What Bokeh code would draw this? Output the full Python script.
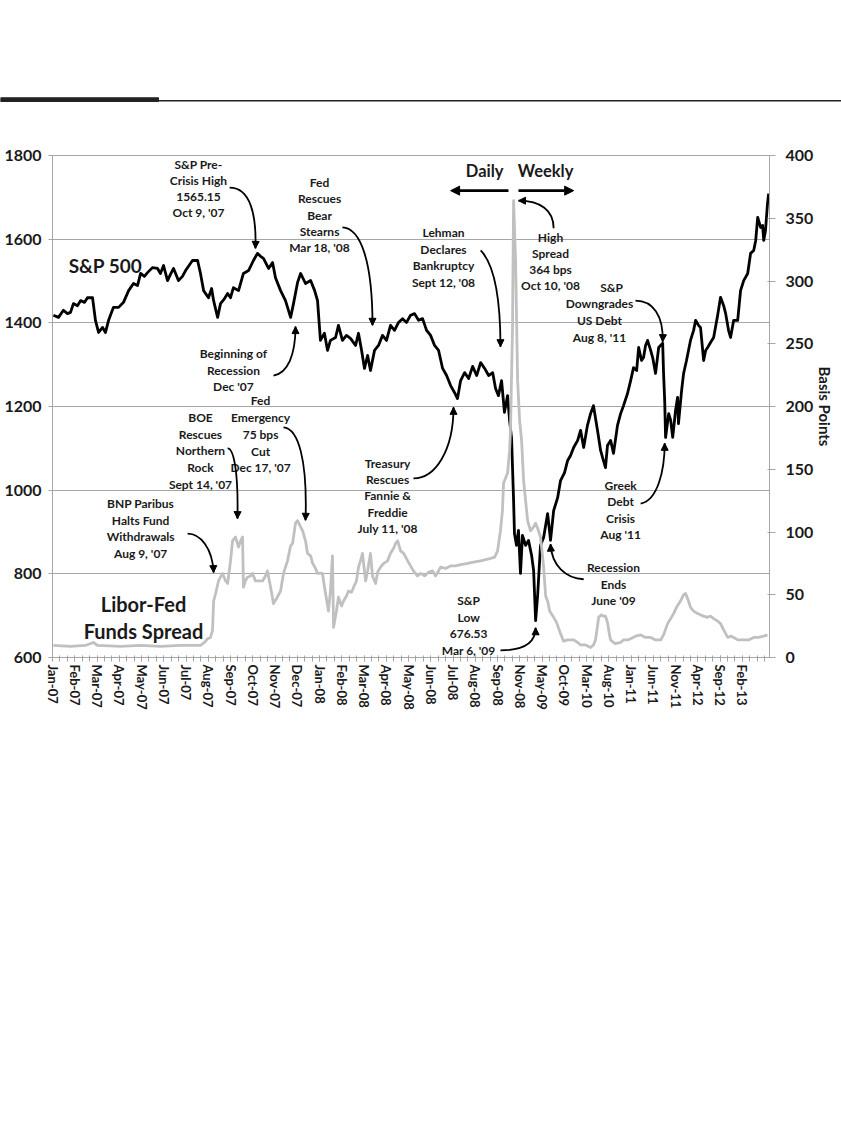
import math
from bokeh.plotting import figure
from bokeh.models import Range1d, LinearAxis, FixedTicker, ColumnDataSource, Arrow, NormalHead
from bokeh.layouts import column
from bokeh.embed import file_html
from bokeh.resources import INLINE
from bokeh.core.properties import value

# ---------------- data ----------------
# x axis: category position, one unit per labelled tick (daily data to Sep-08, weekly after)
x_labels = ["Jan-07", "Feb-07", "Mar-07", "Apr-07", "May-07", "Jun-07", "Jul-07", "Aug-07",
            "Sep-07", "Oct-07", "Nov-07", "Dec-07", "Jan-08", "Feb-08", "Mar-08", "Apr-08",
            "May-08", "Jun-08", "Jul-08", "Aug-08", "Sep-08", "Nov-08", "May-09", "Oct-09",
            "Mar-10", "Aug-10", "Jan-11", "Jun-11", "Nov-11", "Apr-12", "Sep-12", "Feb-13"]

left_ticks = [600, 800, 1000, 1200, 1400, 1600, 1800]
right_ticks = [0, 50, 100, 150, 200, 250, 300, 350, 400]

# S&P 500 index (left axis): (position, level)
sp500 = [
    (0.04, 1418), (0.27, 1413), (0.49, 1430), (0.67, 1422), (0.81, 1425), (0.94, 1446),
    (1.12, 1441), (1.26, 1453), (1.44, 1449), (1.57, 1460), (1.80, 1460), (1.93, 1406),
    (2.07, 1377), (2.25, 1389), (2.38, 1377), (2.52, 1406), (2.74, 1437), (2.97, 1437),
    (3.19, 1449), (3.42, 1477), (3.64, 1494), (3.82, 1489), (3.96, 1518), (4.13, 1511),
    (4.27, 1520), (4.49, 1532), (4.72, 1530), (4.85, 1518), (4.99, 1537), (5.17, 1501),
    (5.30, 1516), (5.44, 1530), (5.66, 1501), (5.84, 1511), (5.98, 1525), (6.29, 1549),
    (6.52, 1549), (6.65, 1518), (6.79, 1477), (7.01, 1460), (7.15, 1482), (7.24, 1453),
    (7.42, 1413), (7.55, 1446), (7.73, 1458), (7.87, 1470), (8.00, 1460), (8.13, 1484),
    (8.36, 1477), (8.58, 1518), (8.81, 1525), (9.03, 1549), (9.21, 1566), (9.35, 1559),
    (9.48, 1554), (9.71, 1530), (9.89, 1544), (10.02, 1508), (10.25, 1477), (10.47, 1453),
    (10.70, 1413), (10.83, 1446), (11.01, 1496), (11.15, 1518), (11.37, 1494), (11.60, 1501),
    (11.78, 1477), (11.91, 1453), (12.04, 1358), (12.22, 1375), (12.36, 1334), (12.49, 1358),
    (12.72, 1365), (12.85, 1394), (13.03, 1358), (13.21, 1370), (13.39, 1363), (13.62, 1346),
    (13.75, 1375), (13.89, 1334), (14.02, 1291), (14.16, 1322), (14.29, 1286), (14.47, 1334),
    (14.65, 1346), (14.83, 1370), (15.01, 1358), (15.19, 1394), (15.37, 1382), (15.55, 1401),
    (15.73, 1410), (15.91, 1401), (16.09, 1418), (16.27, 1422), (16.45, 1406), (16.63, 1410),
    (16.81, 1382), (16.99, 1370), (17.17, 1346), (17.35, 1334), (17.53, 1291), (17.71, 1274),
    (17.89, 1250), (18.07, 1233), (18.20, 1219), (18.34, 1262), (18.52, 1281), (18.70, 1267),
    (18.88, 1296), (19.06, 1274), (19.24, 1305), (19.42, 1291), (19.60, 1274), (19.78, 1281),
    (19.91, 1243), (20.04, 1226), (20.18, 1262), (20.31, 1186), (20.45, 1226), (20.54, 1167),
    (20.63, 1124), (20.72, 975), (20.76, 896), (20.85, 868), (20.94, 904), (21.03, 801),
    (21.12, 892), (21.26, 868), (21.39, 880), (21.53, 844), (21.62, 808), (21.71, 688),
    (21.80, 748), (21.93, 868), (22.07, 887), (22.25, 944), (22.38, 880), (22.52, 951),
    (22.70, 982), (22.83, 1023), (23.01, 1042), (23.15, 1071), (23.28, 1083), (23.42, 1102),
    (23.60, 1119), (23.73, 1143), (23.87, 1102), (24.04, 1155), (24.18, 1183), (24.31, 1202),
    (24.49, 1143), (24.63, 1095), (24.72, 1078), (24.85, 1054), (24.94, 1107), (25.08, 1119),
    (25.21, 1088), (25.39, 1155), (25.53, 1183), (25.66, 1202), (25.84, 1231), (25.98, 1262),
    (26.11, 1293), (26.25, 1286), (26.34, 1341), (26.47, 1310), (26.56, 1317), (26.65, 1346),
    (26.74, 1358), (26.88, 1334), (26.97, 1317), (27.10, 1279), (27.24, 1341), (27.42, 1351),
    (27.46, 1279), (27.51, 1214), (27.55, 1126), (27.69, 1183), (27.78, 1167), (27.87, 1126),
    (28.00, 1191), (28.09, 1222), (28.13, 1159), (28.27, 1238), (28.36, 1279), (28.49, 1310),
    (28.67, 1358), (28.81, 1382), (28.90, 1406), (29.03, 1394), (29.12, 1389), (29.26, 1310),
    (29.35, 1334), (29.44, 1341), (29.57, 1353), (29.71, 1365), (29.89, 1418), (30.02, 1461),
    (30.16, 1441), (30.25, 1422), (30.38, 1382), (30.47, 1365), (30.61, 1406), (30.79, 1406),
    (30.92, 1477), (31.06, 1501), (31.24, 1518), (31.37, 1566), (31.51, 1573), (31.60, 1597),
    (31.69, 1652), (31.82, 1628), (31.91, 1633), (31.96, 1597), (32.04, 1621), (32.13, 1685),
    (32.18, 1709),
]

# Libor-Fed Funds spread in basis points (right axis): (position, bps)
libor_spread = [
    (0.04, 9.6), (0.81, 8.8), (1.48, 9.6), (1.84, 12), (2.02, 9.6), (3.06, 8.8), (3.96, 9.6),
    (4.85, 8.8), (5.75, 9.6), (6.65, 9.6), (6.83, 12), (6.97, 15), (7.10, 16), (7.19, 21.5),
    (7.24, 45), (7.33, 51), (7.46, 61), (7.64, 67), (7.78, 61), (7.87, 59), (8.00, 77),
    (8.09, 93), (8.22, 96), (8.36, 88), (8.45, 93), (8.54, 96), (8.58, 56), (8.67, 61),
    (8.76, 64), (8.90, 65), (8.99, 67), (9.12, 61), (9.21, 61), (9.44, 61), (9.57, 65),
    (9.66, 69), (9.80, 56), (9.93, 43), (10.07, 47), (10.25, 53), (10.38, 67), (10.56, 77),
    (10.70, 89), (10.79, 91), (10.92, 107), (11.01, 109), (11.15, 104), (11.24, 101),
    (11.37, 93), (11.46, 83), (11.60, 81), (11.69, 75), (11.82, 71), (11.91, 67), (12.13, 67),
    (12.27, 51), (12.40, 37), (12.49, 53), (12.58, 81), (12.63, 24), (12.76, 37), (12.85, 48),
    (12.99, 41), (13.08, 45), (13.21, 49), (13.30, 53), (13.44, 52), (13.53, 56), (13.66, 61),
    (13.75, 72), (13.84, 77), (13.93, 83), (14.07, 61), (14.16, 69), (14.29, 83), (14.38, 65),
    (14.52, 59), (14.61, 68), (14.74, 72), (14.88, 75), (15.06, 77), (15.19, 83), (15.33, 87),
    (15.42, 91), (15.51, 93), (15.64, 85), (15.78, 83), (15.96, 77), (16.09, 73), (16.22, 69),
    (16.40, 65), (16.54, 67), (16.72, 65), (16.90, 68), (17.08, 69), (17.21, 65), (17.35, 69),
    (17.44, 72), (17.66, 71), (17.89, 73), (18.11, 73), (18.34, 74), (18.65, 75), (18.92, 76),
    (19.24, 77), (19.46, 78), (19.69, 79), (19.87, 80), (20.00, 85), (20.13, 101), (20.22, 117),
    (20.27, 139), (20.45, 147), (20.54, 165), (20.58, 181), (20.67, 261), (20.72, 364),
    (20.81, 316), (20.90, 221), (20.99, 189), (21.08, 173), (21.17, 141), (21.26, 125),
    (21.35, 109), (21.48, 101), (21.62, 104), (21.71, 107), (21.80, 103), (21.93, 96),
    (22.02, 81), (22.07, 72), (22.16, 49), (22.25, 45), (22.34, 37), (22.52, 32), (22.65, 28),
    (22.83, 19), (22.97, 13), (23.15, 14), (23.42, 14), (23.60, 12), (23.73, 10), (23.96, 10),
    (24.18, 8), (24.31, 10), (24.40, 14), (24.49, 25), (24.54, 32), (24.67, 34), (24.76, 33),
    (24.85, 33), (24.94, 28), (25.03, 18), (25.08, 14), (25.21, 12), (25.30, 11), (25.53, 12),
    (25.66, 14), (25.84, 14), (25.98, 15), (26.20, 17), (26.43, 18), (26.65, 16), (26.88, 16),
    (27.10, 14), (27.33, 14), (27.46, 18), (27.64, 27), (27.78, 31), (27.91, 35), (28.04, 40),
    (28.22, 45), (28.36, 50), (28.45, 51), (28.58, 45), (28.67, 40), (28.81, 37), (28.99, 35),
    (29.12, 34), (29.26, 33), (29.44, 32), (29.57, 33), (29.71, 31), (29.89, 29), (30.02, 27),
    (30.16, 22), (30.34, 16), (30.47, 17), (30.61, 16), (30.79, 14), (31.06, 14), (31.28, 14),
    (31.51, 16), (31.73, 16), (31.96, 17), (32.13, 18),
]

# ---------------- styling constants ----------------
FONT_NAME = "Lato"
FONT = value(FONT_NAME)
TXT = "#1a1a1a"
GRID = "#a6a6a6"
PX = 1200.0 / 502.0   # left-axis units per screen pixel (frame is 502 px tall)
W = 841

# ---------------- header rule ----------------
hdr = figure(width=W, height=108, x_range=Range1d(0, W), y_range=Range1d(108, 0),
             output_backend="svg", toolbar_location=None, min_border=0,
             x_axis_location=None, y_axis_location=None, outline_line_color=None,
             frame_align=False)
hdr.grid.visible = False
hdr.quad(left=[0], right=[158], top=[97.3], bottom=[101], color="#222222")
hdr.segment(x0=[0], y0=[100.2], x1=[W], y1=[100.2], line_color="#222222", line_width=1.6)

# ---------------- main chart ----------------
p = figure(width=W, height=609, x_range=Range1d(0, 32.22), y_range=Range1d(600, 1800),
           output_backend="svg", toolbar_location=None, frame_align=False,
           min_border_left=52, min_border_right=72, min_border_top=47, min_border_bottom=60,
           outline_line_color=GRID, background_fill_color="white", border_fill_color="white")
p.extra_y_ranges = {"bps": Range1d(0, 400)}

p.xgrid.visible = False
p.ygrid.ticker = FixedTicker(ticks=left_ticks)
p.ygrid.grid_line_color = GRID
p.ygrid.grid_line_width = 1.2

# left axis
ya = p.yaxis[0]
ya.ticker = FixedTicker(ticks=left_ticks)
ya.axis_line_color = GRID
ya.major_tick_line_color = GRID
ya.major_tick_out = 4
ya.major_tick_in = 0
ya.minor_tick_line_color = None
ya.major_label_standoff = 7
ya.major_label_text_font = FONT_NAME
ya.major_label_text_font_style = "bold"
ya.major_label_text_font_size = "16px"
ya.major_label_text_color = TXT

# right axis
ra = LinearAxis(y_range_name="bps", ticker=FixedTicker(ticks=right_ticks), axis_label="Basis Points")
ra.axis_line_color = GRID
ra.major_tick_line_color = GRID
ra.major_tick_out = 6
ra.major_tick_in = 2
ra.minor_tick_line_color = None
ra.major_label_standoff = 10
ra.major_label_text_font = FONT_NAME
ra.major_label_text_font_style = "bold"
ra.major_label_text_font_size = "16px"
ra.major_label_text_color = TXT
ra.axis_label_text_font = FONT_NAME
ra.axis_label_text_font_style = "bold"
ra.axis_label_text_font_size = "15px"
ra.axis_label_text_color = TXT
ra.axis_label_standoff = 0
p.add_layout(ra, "right")

# bottom axis
xa = p.xaxis[0]
xa.ticker = FixedTicker(ticks=list(range(len(x_labels))),
                        minor_ticks=[i / 3 for i in range(0, 3 * 32 + 1)])
xa.major_label_overrides = {i: lab for i, lab in enumerate(x_labels)}
xa.major_label_orientation = -math.pi / 2
xa.axis_line_color = GRID
xa.major_tick_line_color = GRID
xa.minor_tick_line_color = GRID
xa.major_tick_out = 4
xa.major_tick_in = 2
xa.minor_tick_out = 4
xa.minor_tick_in = 2
xa.major_label_standoff = 3
xa.major_label_text_font = FONT_NAME
xa.major_label_text_font_style = "bold"
xa.major_label_text_font_size = "13px"
xa.major_label_text_color = TXT

# series
sp_t = [a for a, b in sp500]
sp_v = [b for a, b in sp500]
lb_t = [a for a, b in libor_spread]
lb_v = [b for a, b in libor_spread]

p.line(sp_t, sp_v, line_color="#000000", line_width=2.8, line_join="round")
p.line(lb_t, lb_v, y_range_name="bps", line_color="#c0c0c0", line_width=2.8, line_join="round")

# ---------------- annotations ----------------
# (x centre, y of first line, line spacing in px, font size, lines)
notes = [
    (6.56, 1778, 16.0, "12px", ["S&P Pre-", "Crisis High", "1565.15", "Oct 9, '07"]),
    (8.13, 1327, 16.8, "12px", ["Beginning of", "Recession", "Dec '07"]),
    (9.35, 1214, 16.8, "12px", ["Fed", "Emergency", "75 bps", "Cut", "Dec 17, '07"]),
    (6.65, 1174, 16.8, "12px", ["BOE", "Rescues", "Northern", "Rock", "Sept 14, '07"]),
    (3.96, 968, 16.7, "12px", ["BNP Paribus", "Halts Fund", "Withdrawals", "Aug 9, '07"]),
    (12.00, 1735, 16.3, "12px", ["Fed", "Rescues", "Bear", "Stearns", "Mar 18, '08"]),
    (17.57, 1616, 16.7, "12px", ["Lehman", "Declares", "Bankruptcy", "Sept 12, '08"]),
    (22.38, 1604, 16.0, "12px", ["High", "Spread", "364 bps", "Oct 10, '08"]),
    (25.12, 1484, 16.0, "12px", ["S&P"]),
    (24.58, 1446, 16.8, "12px", ["Downgrades", "US Debt", "Aug 8, '11"]),
    (15.06, 1064, 16.3, "12px", ["Treasury", "Rescues", "Fannie &", "Freddie", "July 11, '08"]),
    (18.70, 736, 16.7, "12px", ["S&P", "Low", "676.53", "Mar 6, '09"]),
    (25.21, 815, 16.5, "12px", ["Recession", "Ends", "June '09"]),
    (25.53, 1011, 16.3, "12px", ["Greek", "Debt", "Crisis", "Aug '11"]),
    (2.38, 1537, 20.0, "19px", ["S&P 500"]),
    (4.09, 729, 27.0, "20px", ["Libor-Fed", "Funds Spread"]),
    (19.42, 1764, 16.0, "16.5px", ["Daily"]),
    (22.16, 1764, 16.0, "16.5px", ["Weekly"]),
]
tx, ty, tt, ts = [], [], [], []
for x0, y0, sp, fs, lines in notes:
    for i, line in enumerate(lines):
        tx.append(x0)
        ty.append(y0 - i * sp * PX)
        tt.append(line)
        ts.append(fs)
p.text(x="x", y="y", text="t", text_font_size="s",
       source=ColumnDataSource(dict(x=tx, y=ty, t=tt, s=ts)),
       text_font=FONT, text_font_style="bold", text_align="center",
       text_baseline="middle", text_color=TXT)

# curved pointer arrows: start, control 1, control 2, end (x position, left-axis value)
curves = [
    (7.96, 1723, 8.90, 1723, 9.17, 1657, 9.12, 1578),
    (9.93, 1274, 10.56, 1279, 10.92, 1322, 10.92, 1391),
    (10.38, 1150, 11.06, 1147, 11.46, 1071, 11.37, 928),
    (7.87, 1100, 8.13, 1100, 8.36, 1047, 8.31, 932),
    (6.07, 896, 6.65, 896, 7.19, 861, 7.24, 803),
    (13.03, 1628, 13.84, 1626, 14.38, 1549, 14.38, 1394),
    (19.24, 1573, 19.78, 1544, 20.13, 1477, 20.13, 1343),
    (22.52, 1626, 22.52, 1669, 21.93, 1692, 20.94, 1692),
    (26.20, 1453, 26.97, 1453, 27.46, 1418, 27.42, 1355),
    (16.22, 1028, 17.21, 1028, 18.02, 1095, 18.02, 1198),
    (20.13, 617, 21.03, 617, 21.71, 629, 21.71, 671),
    (23.87, 787, 23.06, 789, 22.43, 820, 22.38, 871),
    (26.43, 968, 27.19, 975, 27.51, 1047, 27.51, 1112),
]
for (x0, y0, c0x, c0y, c1x, c1y, x1, y1) in curves:
    p.bezier(x0=[x0], y0=[y0], cx0=[c0x], cy0=[c0y], cx1=[c1x], cy1=[c1y], x1=[x1], y1=[y1],
             line_color="black", line_width=1.8)
    p.add_layout(Arrow(end=NormalHead(size=7, fill_color="black", line_color="black"),
                       x_start=x1 + 0.12 * (c1x - x1), y_start=y1 + 0.12 * (c1y - y1),
                       x_end=x1, y_end=y1, line_color="black", line_width=1.8))

# Daily / Weekly straight arrows
for xs, xe in [(20.49, 17.89), (20.94, 23.42)]:
    p.add_layout(Arrow(end=NormalHead(size=9, fill_color="black", line_color="black"),
                       x_start=xs, y_start=1716, x_end=xe, y_end=1716,
                       line_color="black", line_width=2.6))

layout = column(hdr, p, spacing=0)
open("out.html", "w").write(file_html(layout, INLINE))
